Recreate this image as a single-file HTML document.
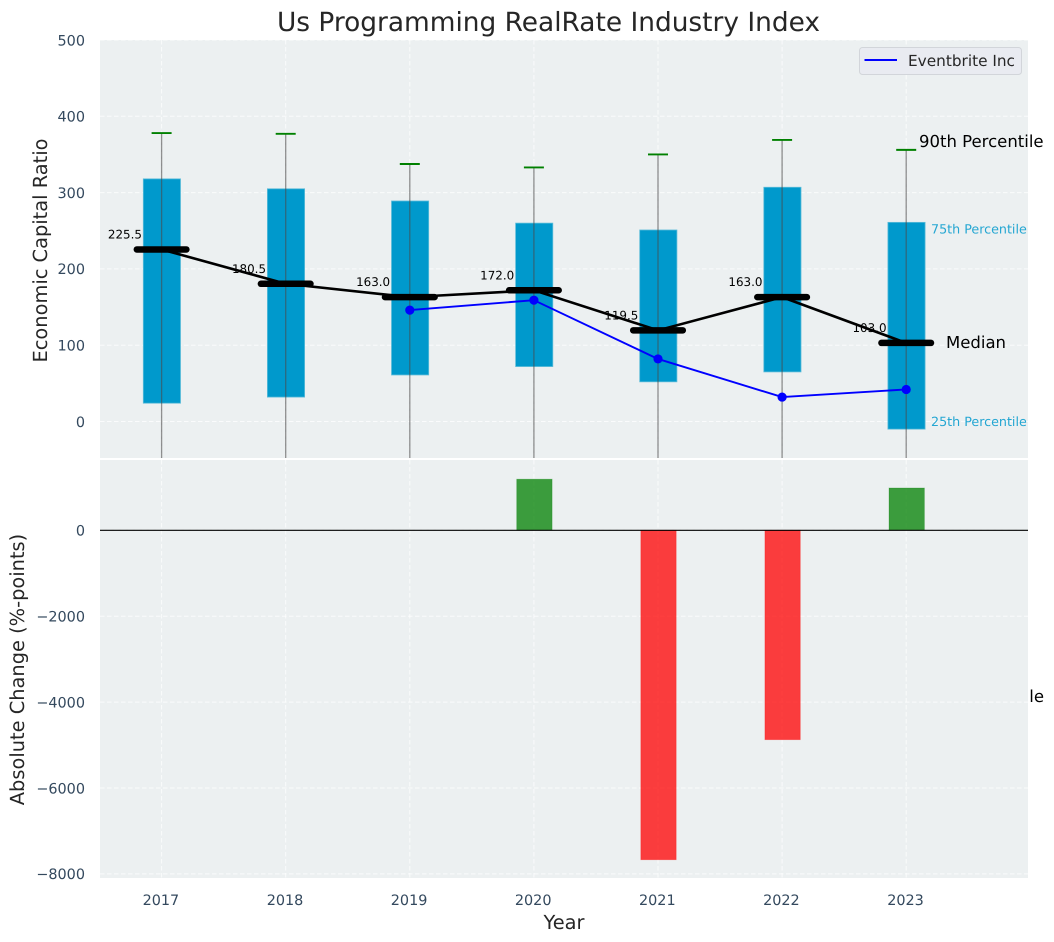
<!DOCTYPE html>
<html lang="en">
<head>
<meta charset="utf-8">
<title>Us Programming RealRate Industry Index</title>
<style>
html,body{margin:0;padding:0;background:#fff;width:1054px;height:942px;overflow:hidden}
svg{display:block;font-family:"DejaVu Sans","Liberation Sans",sans-serif;text-rendering:geometricPrecision}
</style>
</head>
<body>
<svg id="chart" width="1054" height="942" viewBox="0 0 1054 942" xmlns="http://www.w3.org/2000/svg">
<defs>
<clipPath id="clip-top"><rect x="100" y="40" width="928" height="418"/></clipPath>
<clipPath id="clip-bottom"><rect x="100" y="460" width="928" height="418"/></clipPath>
</defs>
<text x="548.5" y="31" text-anchor="middle" font-size="26.4" fill="#262626">Us Programming RealRate Industry Index</text>
<rect x="100" y="40" width="928" height="418" fill="#ecf0f1"/>
<g id="top-grid"></g>
<g id="top-axis"></g>
<g id="value-labels"></g>
<g id="top-marks" clip-path="url(#clip-top)"></g>
<g id="annotations"></g>
<rect x="100" y="460" width="928" height="418" fill="#ecf0f1"/>
<g id="bottom-grid"></g>
<g id="bottom-marks" clip-path="url(#clip-bottom)"></g>
<g id="bottom-axis"></g>
<text transform="translate(47,250.5) rotate(-90)" text-anchor="middle" font-size="19.4" fill="#262626">Economic Capital Ratio</text>
<text transform="translate(24,669.5) rotate(-90)" text-anchor="middle" font-size="19.4" fill="#262626">Absolute Change (%-points)</text>
<text x="564" y="929" text-anchor="middle" font-size="19.4" fill="#262626">Year</text>
<g>
<rect x="859.5" y="47.5" width="162" height="27" rx="3" fill="#e9ebf1" stroke="#d2d5da" stroke-width="1"/>
<line x1="864.5" x2="897" y1="60" y2="60" stroke="#0000ff" stroke-width="2"/>
<text x="908" y="66" font-size="15.3" fill="#262626">Eventbrite Inc</text>
</g>
</svg>
<script>
const years = [2017, 2018, 2019, 2020, 2021, 2022, 2023];
const p90 = [378, 377, 337.5, 333, 350, 369, 356];
const p75 = [318, 305, 289, 260, 251, 307, 261];
const medians = [225.5, 180.5, 163.0, 172.0, 119.5, 163.0, 103.0];
const p25 = [24, 32, 61, 72, 52, 65, -10];
const p10 = [-350, -345, -340, -330, -345, -355, -360];
const eventbrite = [null, null, 146, 159, 82, 32, 42];
const changes = [null, null, null, 1190, -7670, -4875, 985];
const topTicks = [500, 400, 300, 200, 100, 0];
const bottomTicks = [0, -2000, -4000, -6000, -8000];

function xPos(year) { return 161.6 + (year - 2017) * 124.1; }
function yTop(value) { return 421.5 - value * 0.763; }
function yBottom(value) { return 530.3 - value * 0.04295; }

const NS = 'http://www.w3.org/2000/svg';
function make(tag, parentId, props) {
  const el = document.createElementNS(NS, tag);
  for (const key in props) el.setAttribute(key, props[key]);
  document.getElementById(parentId).appendChild(el);
  return el;
}
const tickText = v => String(v).replace('-', '\u2212');

// grids
years.forEach(year => {
  const a = make('line', 'top-grid', {x1: xPos(year), x2: xPos(year), y1: 40, y2: 458, stroke: '#fff', 'stroke-opacity': .75, 'stroke-width': 1, 'stroke-dasharray': '4.5 2.5'});
  
  
  const b = make('line', 'bottom-grid', {x1: xPos(year), x2: xPos(year), y1: 460, y2: 878, stroke: '#fff', 'stroke-opacity': .75, 'stroke-width': 1, 'stroke-dasharray': '4.5 2.5'});
  
  
});
topTicks.forEach(tick => {
  const g = make('line', 'top-grid', {x1: 100, x2: 1028, y1: yTop(tick), y2: yTop(tick), stroke: '#fff', 'stroke-opacity': .75, 'stroke-width': 1, 'stroke-dasharray': '4.5 2.5'});
  
  
  const t = make('text', 'top-axis', {x: 85, y: yTop(tick) + 5.3, 'text-anchor': 'end', 'font-size': 14.4, fill: '#34495e'});
  t.textContent = tickText(tick);
  
  
});
bottomTicks.forEach(tick => {
  const g = make('line', 'bottom-grid', {x1: 100, x2: 1028, y1: yBottom(tick), y2: yBottom(tick), stroke: '#fff', 'stroke-opacity': .75, 'stroke-width': 1, 'stroke-dasharray': '4.5 2.5'});
  
  
  const t = make('text', 'bottom-axis', {x: 85, y: yBottom(tick) + 5.3, 'text-anchor': 'end', 'font-size': 14.4, fill: '#34495e'});
  t.textContent = tickText(tick);
  
  
});

// median value labels sit under the marks
years.forEach((year, i) => {
  const t = make('text', 'value-labels', {x: xPos(year) - 36.7, y: yTop(medians[i]) - 11, 'text-anchor': 'middle', 'font-size': 11.9, fill: '#000'});
  t.textContent = medians[i].toFixed(1);
  
  
});

// boxes, whiskers, caps
years.forEach((year, i) => {
  const cx = xPos(year);
  const box = make('rect', 'top-marks', {x: cx - 18.3, width: 37.2, y: yTop(p75[i]), height: yTop(p25[i]) - yTop(p75[i]), fill: '#0099cc', stroke: '#5cbcd9', 'stroke-width': .8});
  
  
  const whisker = make('line', 'top-marks', {x1: cx, x2: cx, y1: yTop(p90[i]), y2: yTop(p10[i]), stroke: '#4a4a4a', 'stroke-opacity': .6, 'stroke-width': 1.3});
  
  
  const cap = make('line', 'top-marks', {x1: cx - 10, x2: cx + 10, y1: yTop(p90[i]), y2: yTop(p90[i]), stroke: '#008000', 'stroke-width': 1.9});
  
  
});

// median connecting line
const medianPath = make('polyline', 'top-marks', {points: years.map((y, i) => xPos(y) + ',' + yTop(medians[i])).join(' '), fill: 'none', stroke: '#000', 'stroke-width': 2.6});


years.forEach((year, i) => {
  const m = make('line', 'top-marks', {x1: xPos(year) - 24.8, x2: xPos(year) + 24.8, y1: yTop(medians[i]), y2: yTop(medians[i]), stroke: '#000', 'stroke-width': 6.5, 'stroke-linecap': 'round'});
  
  
});

// Eventbrite series
const bluePoints = years.map((y, i) => eventbrite[i] === null ? null : xPos(y) + ',' + yTop(eventbrite[i])).filter(Boolean);
const blueLine = make('polyline', 'top-marks', {points: bluePoints.join(' '), fill: 'none', stroke: '#0000ff', 'stroke-width': 1.9});


years.forEach((year, i) => {
  if (eventbrite[i] === null) return;
  const c = make('circle', 'top-marks', {cx: xPos(year), cy: yTop(eventbrite[i]), r: 4.6, fill: '#0000ff'});
  
  
});

// annotations on the last box (10th is hidden by the lower panel except its tail)
const last = years.length - 1;
const t90 = make('text', 'annotations', {x: 919, y: yTop(p90[last]) - 3, 'font-size': 16.5, fill: '#000'});
t90.textContent = '90th Percentile';


const t75 = make('text', 'annotations', {x: 931, y: yTop(p75[last]) + 11, 'font-size': 12.7, fill: '#0099cc', 'fill-opacity': .85});
t75.textContent = '75th Percentile';


const t50 = make('text', 'annotations', {x: 946, y: yTop(medians[last]) + 5.1, 'font-size': 16.5, fill: '#000'});
t50.textContent = 'Median';


const t25 = make('text', 'annotations', {x: 931, y: yTop(p25[last]) - 3.1, 'font-size': 12.7, fill: '#0099cc', 'fill-opacity': .85});
t25.textContent = '25th Percentile';


const t10 = make('text', 'annotations', {x: 1044, y: yTop(p10[last]) + 5.8, 'text-anchor': 'end', 'font-size': 16.5, fill: '#000'});
t10.textContent = '10th Percentile';



// change bars
years.forEach((year, i) => {
  if (changes[i] === null) return;
  const v = changes[i];
  const y0 = Math.min(yBottom(v), yBottom(0));
  const bar = make('rect', 'bottom-marks', {x: xPos(year) - 17.2, width: 35.4, y: y0, height: Math.abs(yBottom(v) - yBottom(0)), fill: v >= 0 ? '#008000' : '#ff0000', 'fill-opacity': .75, stroke: v >= 0 ? '#008000' : '#ff0000', 'stroke-opacity': .3, 'stroke-width': .8});
  
  
});

// zero line and year labels
const zero = make('line', 'bottom-axis', {x1: 100, x2: 1028, y1: yBottom(0), y2: yBottom(0), stroke: '#000', 'stroke-width': 1.1});


years.forEach(year => {
  const t = make('text', 'bottom-axis', {x: xPos(year) - .7, y: 905, 'text-anchor': 'middle', 'font-size': 14.4, fill: '#34495e'});
  t.textContent = year;
  
  
});
</script>
</body>
</html>
